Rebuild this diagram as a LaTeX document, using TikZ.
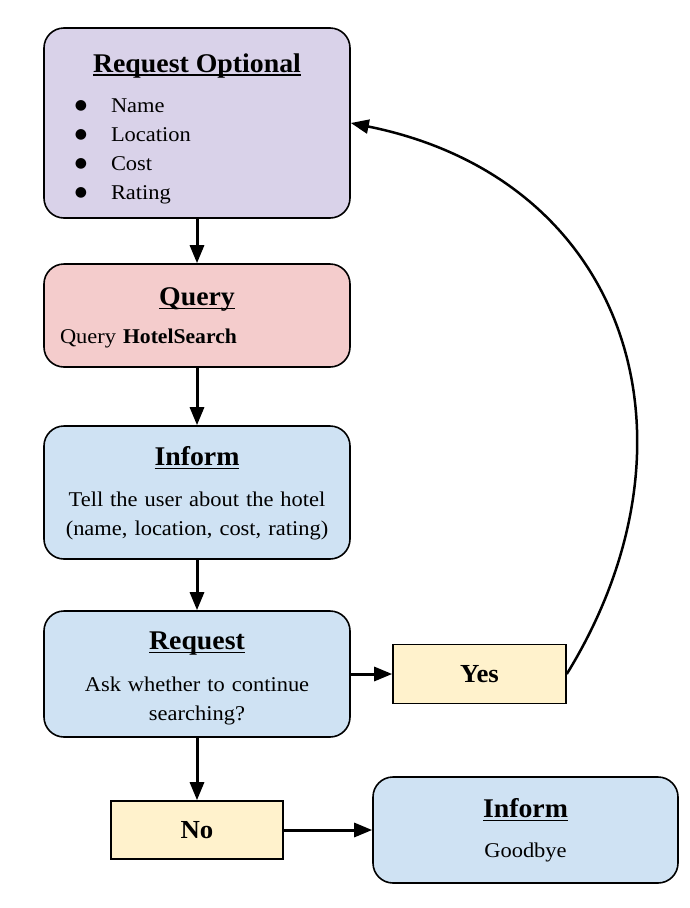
\documentclass[tikz,border=0pt]{standalone}
\usepackage{fontspec}
\setmainfont{Liberation Serif}[UprightFeatures={FakeStretch=1.07},BoldFeatures={FakeStretch=1.03}]
\newfontfamily\symfont{DejaVu Sans}
\usetikzlibrary{calc,positioning,arrows.meta}

\definecolor{lavender}{HTML}{D9D2E9}
\definecolor{querypink}{HTML}{F4CCCC}
\definecolor{informblue}{HTML}{CFE2F3}
\definecolor{answeryellow}{HTML}{FFF2CC}

\newsavebox{\titlebox}
% underlined bold title, #2 = strut height to shift the text block
\newcommand{\boxtitle}[2]{\sbox{\titlebox}{\fontsize{27}{29}\selectfont\bfseries #1}\rule{0pt}{#2}\rlap{\rule[-3.5pt]{\wd\titlebox}{1.6pt}}\usebox{\titlebox}}
\newcommand{\bulletline}[1]{\makebox[306pt][l]{\hspace{27pt}\makebox[20pt][c]{\raisebox{2.5pt}{\symfont\fontsize{14}{29}\selectfont ●}}\hspace{20pt}#1}}

\begin{document}
\begin{tikzpicture}[
  x=1pt, y=-1pt,
  every node/.style={font=\fontsize{21}{29}\selectfont},
  stepbox/.style={rectangle, rounded corners=20pt, draw=black, line width=1.6pt,
    inner sep=0pt, text width=306pt, minimum width=306pt, align=center},
  answer/.style={rectangle, draw=black, line width=1.6pt, fill=answeryellow,
    minimum width=173pt, minimum height=59pt, font=\fontsize{26}{29}\selectfont\bfseries},
  flow/.style={-{Triangle[length=18pt,width=14pt]}, line width=3pt},
  ]

  \useasboundingbox (0,0) rectangle (690,908);

  \node (req_opt) [stepbox, fill=lavender, minimum height=190pt] at (197,123)
    {\boxtitle{Request Optional}{30pt}\\[11pt]
     \bulletline{Name}\\ \bulletline{Location}\\ \bulletline{Cost}\\ \bulletline{Rating}};

  \node (query) [stepbox, fill=querypink, minimum height=103pt] at (197,315.5)
    {\boxtitle{Query}{23.4pt}\\[9pt]
     \makebox[306pt][l]{\hspace{16pt}Query \textbf{HotelSearch}}};

  \node (inform_hotel) [stepbox, fill=informblue, minimum height=133pt] at (197,492.5)
    {\boxtitle{Inform}{21.4pt}\\[12pt]
     Tell the user about the hotel\\ (name, location, cost, rating)};

  \node (request) [stepbox, fill=informblue, minimum height=126pt] at (197,674)
    {\boxtitle{Request}{27.4pt}\\[13pt]
     Ask whether to continue\\ searching?};

  \node (yes) [answer] at (479.5,674) {Yes};
  \node (no) [answer, minimum width=172pt, minimum height=58pt] at (197,830) {No};

  \node (inform_bye) [stepbox, fill=informblue, text width=305pt, minimum width=305pt,
    minimum height=106pt] at (525.5,830)
    {\boxtitle{Inform}{20.4pt}\\[11pt] Goodbye};

  \draw[flow] (req_opt) -- (query);
  \draw[flow] (query) -- (inform_hotel);
  \draw[flow] (inform_hotel) -- (request);
  \draw[flow] (request) -- (yes);
  \draw[flow] (request) -- (no);
  \draw[flow] (no) -- (inform_bye);
  % loop back to the optional request
  \draw[flow, line width=2.5pt] (yes.east) .. controls +(144,-234) and +(278,56) .. (req_opt.east);

\end{tikzpicture}
\end{document}
